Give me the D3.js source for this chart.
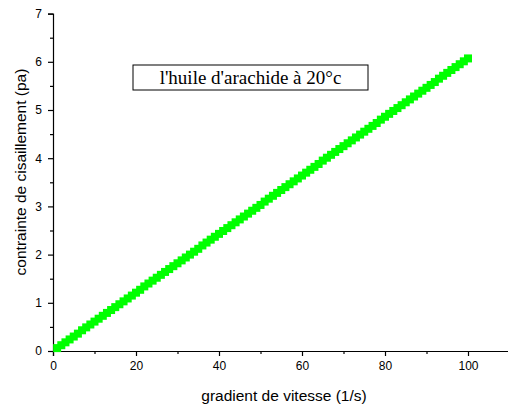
<!DOCTYPE html>
<html>
<head>
<meta charset="utf-8">
<script src="https://cdn.jsdelivr.net/npm/d3@7"></script>
<style>
  html, body { margin: 0; padding: 0; background: #fff; }
  svg { display: block; }
</style>
</head>
<body>
<svg id="chart" width="508" height="412"></svg>
<script>
// Shear rate (1/s)
const shearRate = [
  1,2,3,4,5,6,7,8,9,10,11,12,13,14,15,16,17,18,19,20,
  21,22,23,24,25,26,27,28,29,30,31,32,33,34,35,36,37,38,39,40,
  41,42,43,44,45,46,47,48,49,50,51,52,53,54,55,56,57,58,59,60,
  61,62,63,64,65,66,67,68,69,70,71,72,73,74,75,76,77,78,79,80,
  81,82,83,84,85,86,87,88,89,90,91,92,93,94,95,96,97,98,99,100
];
// Shear stress (pa)
const shearStress = [
  0.06,0.12,0.18,0.24,0.30,0.36,0.43,0.49,0.55,0.61,
  0.67,0.73,0.79,0.85,0.91,0.97,1.03,1.09,1.15,1.21,
  1.27,1.34,1.40,1.46,1.52,1.58,1.64,1.70,1.76,1.82,
  1.88,1.94,2.00,2.06,2.12,2.19,2.25,2.31,2.37,2.43,
  2.49,2.55,2.61,2.67,2.73,2.79,2.85,2.91,2.97,3.03,
  3.10,3.16,3.22,3.28,3.34,3.40,3.46,3.52,3.58,3.64,
  3.70,3.76,3.82,3.88,3.95,4.01,4.07,4.13,4.19,4.25,
  4.31,4.37,4.43,4.49,4.55,4.61,4.67,4.73,4.80,4.86,
  4.92,4.98,5.04,5.10,5.16,5.22,5.28,5.34,5.40,5.46,
  5.52,5.58,5.65,5.71,5.77,5.83,5.89,5.95,6.01,6.07
];
const xMajorTicks = [0, 20, 40, 60, 80, 100];
const xMinorTicks = [10, 30, 50, 70, 90];
const yMajorTicks = [0, 1, 2, 3, 4, 5, 6, 7];
const yMinorTicks = [0.5, 1.5, 2.5, 3.5, 4.5, 5.5, 6.5];
const xTitle = "gradient de vitesse (1/s)";
const yTitle = "contrainte de cisaillement (pa)";
const legendText = "l'huile d'arachide à 20°c";

const svg = d3.select("#chart");
const left = 53, bottom = 351;

const x = d3.scaleLinear().domain([0, 110]).range([left, 509.5]);
const y = d3.scaleLinear().domain([0, 7]).range([bottom, 13.6]);

const axisFont = "Liberation Sans, Arial, sans-serif";

// Bottom axis
const gx = svg.append("g").attr("transform", `translate(0,${bottom})`);
gx.call(d3.axisBottom(x).tickValues(xMajorTicks).tickSize(5).tickPadding(5).tickFormat(d3.format("d")));
gx.append("g").call(d3.axisBottom(x).tickValues(xMinorTicks).tickSize(3).tickFormat(""))
  .select(".domain").remove();
gx.selectAll(".domain").attr("stroke", "#000").attr("stroke-width", 1.2);
gx.selectAll(".tick line").attr("stroke", "#000").attr("stroke-width", 1.2);
gx.selectAll(".tick text").attr("font-family", axisFont).attr("font-size", 12).attr("fill", "#000");

// Left axis
const gy = svg.append("g").attr("transform", `translate(${left},0)`);
gy.call(d3.axisLeft(y).tickValues(yMajorTicks).tickSize(5).tickPadding(6).tickFormat(d3.format("d")));
gy.append("g").call(d3.axisLeft(y).tickValues(yMinorTicks).tickSize(3).tickFormat(""))
  .select(".domain").remove();
gy.selectAll(".domain").attr("stroke", "#000").attr("stroke-width", 1.2);
gy.selectAll(".tick line").attr("stroke", "#000").attr("stroke-width", 1.2);
gy.selectAll(".tick text").attr("font-family", axisFont).attr("font-size", 12).attr("fill", "#000");

// Axis titles
svg.append("text")
  .attr("x", 284).attr("y", 401)
  .attr("text-anchor", "middle")
  .attr("font-family", axisFont).attr("font-size", 15.5)
  .text(xTitle);

svg.append("text")
  .attr("transform", "translate(26,172) rotate(-90)")
  .attr("text-anchor", "middle")
  .attr("font-family", axisFont).attr("font-size", 15.5)
  .text(yTitle);

// Square markers
const size = 8;
svg.append("g").selectAll("rect")
  .data(shearRate.map((v, i) => [v, shearStress[i]]))
  .join("rect")
  .attr("x", d => x(d[0]) - size / 2)
  .attr("y", d => y(d[1]) - size / 2)
  .attr("width", size).attr("height", size)
  .attr("fill", "#00ff00");

// Text box label
svg.append("rect")
  .attr("x", 133).attr("y", 65).attr("width", 235).attr("height", 25)
  .attr("fill", "#fff").attr("stroke", "#000").attr("stroke-width", 1);
svg.append("text")
  .attr("x", 250.5).attr("y", 84)
  .attr("text-anchor", "middle")
  .attr("font-family", "Liberation Serif, Times New Roman, serif").attr("font-size", 19)
  .text(legendText);
</script>
</body>
</html>
